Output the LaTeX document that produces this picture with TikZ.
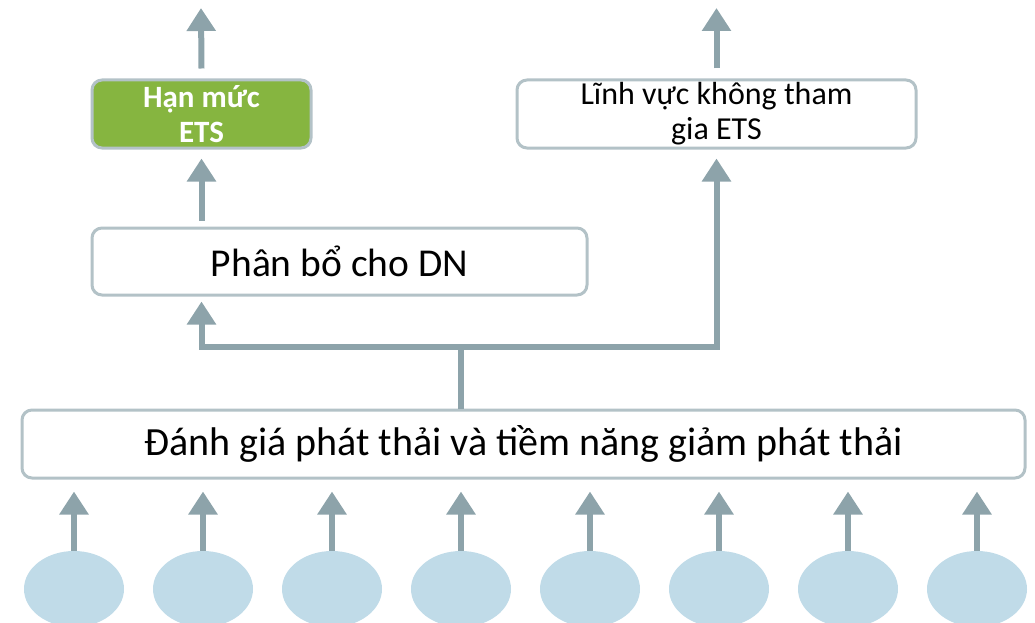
\documentclass[tikz,border=0pt]{standalone}
\usepackage{fontspec}
\setmainfont{Carlito}
\usetikzlibrary{arrows.meta,shapes.geometric}
\definecolor{arrowgray}{HTML}{8DA3AA}
\definecolor{boxline}{HTML}{B3C2C7}
\definecolor{etsgreen}{HTML}{86B540}
\definecolor{sourceblue}{HTML}{C0DBE8}
\tikzset{
  box/.style={draw=boxline, line width=3pt, rounded corners=10pt, fill=white, inner sep=0pt, align=center},
  up/.style={draw=arrowgray, line width=6pt, -{Triangle[width=28pt,length=23pt]}},
  trunk/.style={draw=arrowgray, line width=6pt},
  source/.style={ellipse, fill=sourceblue, minimum width=100pt, minimum height=76pt, inner sep=0pt}
}

\begin{document}
\begin{tikzpicture}[x=1pt,y=-1pt]
\useasboundingbox (0,0) rectangle (1035,623);
\coordinate (outL) at (201,8);
\coordinate (outR) at (716.5,8);
\coordinate (split) at (461,347);
\node[box, fill=etsgreen, minimum width=219pt, minimum height=68pt, inner ysep=-6pt, text=white, font=\bfseries\fontsize{31}{35}\selectfont] (limit) at (201.5,114) {Hạn mức\\ETS};
\node[box, minimum width=399pt, minimum height=68pt, inner ysep=-6pt, font=\fontsize{32}{35}\selectfont] (other) at (716.5,114) {Lĩnh vực không tham\\gia ETS};
\node[box, minimum width=495pt, minimum height=67pt, font=\fontsize{39.5}{46}\selectfont] (alloc) at (339.5,261.5) {Phân bổ cho DN};
\node[box, minimum width=1003pt, minimum height=68pt, font=\fontsize{40}{46}\selectfont] (assess) at (523.5,444) {Đánh giá phát thải và tiềm năng giảm phát thải};
\draw[up] ([yshift=10pt]limit.north) -- (outL);
\draw[up] ([yshift=10pt]other.north) -- (outR);
\draw[up] ([yshift=6pt]alloc.north -| limit.north) -- ([yshift=-9pt]limit.south);
\draw[trunk] (assess.north -| split) -- (split);
\draw[up] (split) -| ([yshift=-5pt]alloc.south -| limit.south);
\draw[up] (split) -| ([yshift=-9pt]other.south);
\foreach \i in {1,...,8} {
  \node[source] (src\i) at ({74+129*(\i-1)},589) {};
  \draw[up] (src\i.north) -- ([yshift=-12pt]assess.south -| src\i.north);
}
\end{tikzpicture}
\end{document}
